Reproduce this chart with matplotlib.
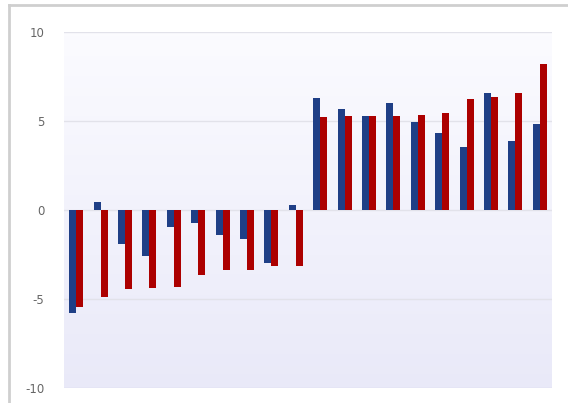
import numpy as np
import matplotlib.pyplot as plt
from matplotlib.lines import Line2D

# values
categories = list(range(1, 21))
series_blue = [-5.8, 0.47, -1.9, -2.56, -0.95, -0.75, -1.38, -1.61, -3.0, 0.28,
               6.31, 5.66, 5.3, 6.03, 4.93, 4.35, 3.54, 6.6, 3.9, 4.85]
series_red = [-5.47, -4.9, -4.45, -4.36, -4.3, -3.65, -3.35, -3.35, -3.14, -3.14,
              5.21, 5.3, 5.3, 5.3, 5.36, 5.43, 6.26, 6.37, 6.6, 8.2]
y_ticks = [-10, -5, 0, 5, 10]

fig = plt.figure(figsize=(5.68, 4.03), dpi=100)
fig.patch.set_facecolor('white')

# card border (top and left edges)
fig.add_artist(Line2D([9 / 568, 9 / 568], [0, 1 - 5 / 403], color='#cfcfcf', lw=2.0))
fig.add_artist(Line2D([9 / 568, 1], [1 - 5 / 403, 1 - 5 / 403], color='#cfcfcf', lw=2.0))

ax = fig.add_axes([64 / 568, 1 - 388 / 403, 488 / 568, 356 / 403])

x = np.arange(len(categories))
w = 0.29

# background gradient of the plot area
grad = np.linspace(0, 1, 256).reshape(-1, 1)
top = np.array([0.985, 0.985, 1.0])
bot = np.array([0.915, 0.915, 0.975])
img = top + (bot - top) * grad[..., None]
ax.imshow(img.reshape(256, 1, 3), extent=(-0.5, len(categories) - 0.5, -10, 10),
          aspect='auto', zorder=0, origin='upper')

for t in y_ticks:
    ax.axhline(t, color='#e2e2ea' if t != -10 else '#d6d6ec', lw=1.0, zorder=1)

ax.bar(x - w / 2, series_blue, width=w, color='#1f3f86', zorder=2)
ax.bar(x + w / 2, series_red, width=w, color='#ac0000', zorder=2)

ax.set_xlim(-0.5, len(categories) - 0.5)
ax.set_ylim(-10, 10)
ax.set_yticks(y_ticks)
ax.set_yticklabels([str(t) for t in y_ticks])
ax.set_xticks([])
ax.tick_params(axis='y', length=0, pad=14, labelsize=8.5, labelcolor='#666666')
for s in ax.spines.values():
    s.set_visible(False)

fig.savefig('out.png', dpi=100)
